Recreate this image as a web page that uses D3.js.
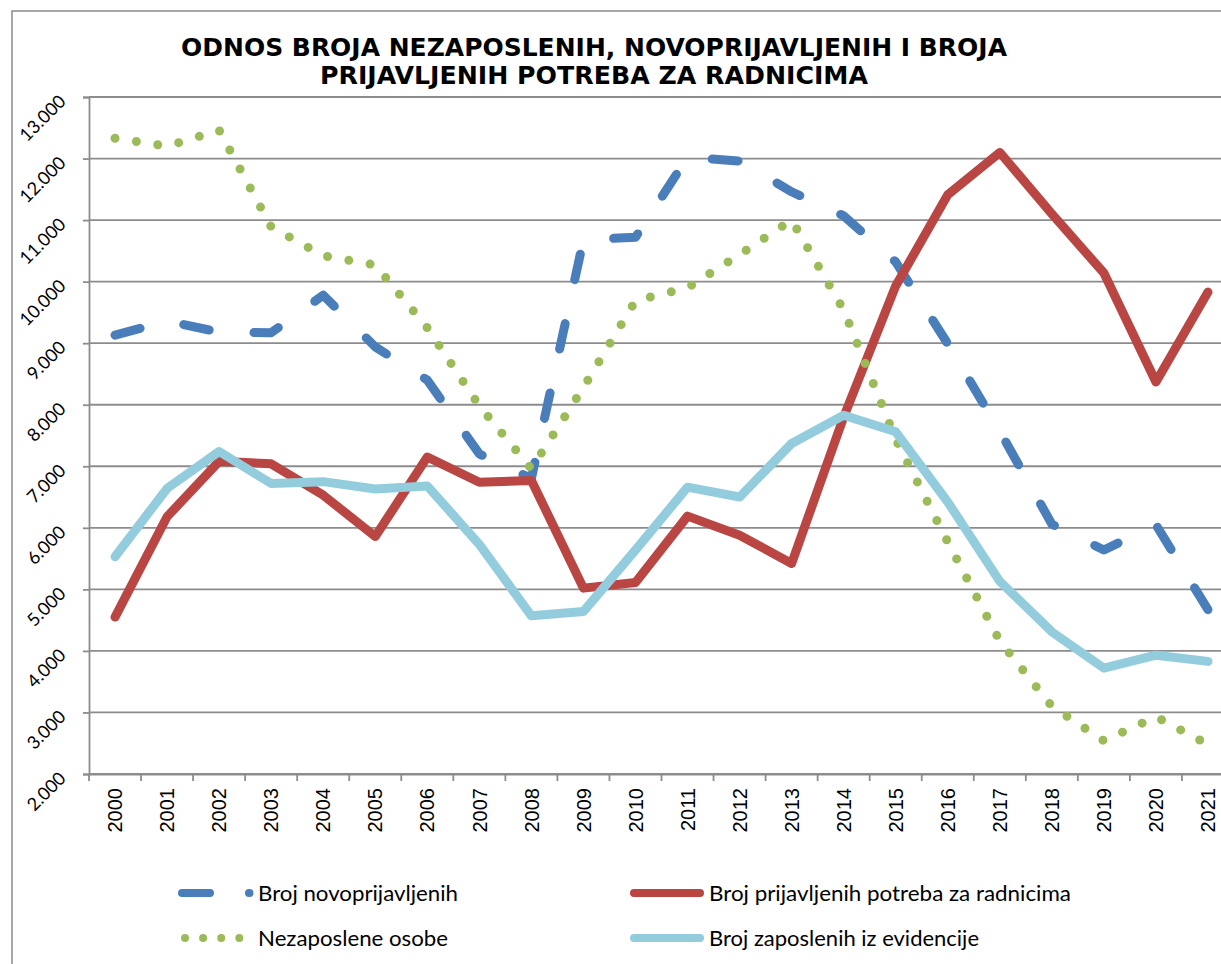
<!DOCTYPE html>
<html>
<head>
<meta charset="utf-8">
<script src="https://cdn.jsdelivr.net/npm/d3@7"></script>
<style>
  body { margin: 0; background: #fff; }
  svg { display: block; }
</style>
</head>
<body>
<div class="chart"></div>
<script>
// categories and series values
const years = ['2000','2001','2002','2003','2004','2005','2006','2007','2008','2009','2010',
               '2011','2012','2013','2014','2015','2016','2017','2018','2019','2020','2021'];
const novoprijavljeni = [9130, 9360, 9180, 9170, 9780, 8940, 8400, 7200, 6800, 10680, 10720,
                         12020, 11960, 11460, 11070, 10320, 8990, 7570, 6060, 5640, 6050, 4670];
const potrebe = [4550, 6180, 7080, 7040, 6530, 5860, 7150, 6740, 6770, 5020, 5110,
                 6190, 5880, 5420, 7800, 9930, 11410, 12100, 11100, 10140, 8370, 9830];
const nezaposleni = [12330, 12200, 12460, 10890, 10420, 10270, 9250, 7980, 6960, 8280, 9690,
                     9900, 10440, 11000, 9540, 7440, 5770, 4160, 3100, 2540, 2930, 2480];
const zaposleni = [5530, 6640, 7240, 6720, 6750, 6630, 6680, 5730, 4570, 4640, 5640,
                   6660, 6500, 7370, 7830, 7560, 6420, 5130, 4310, 3720, 3930, 3830];
const yTicks = [2000, 3000, 4000, 5000, 6000, 7000, 8000, 9000, 10000, 11000, 12000, 13000];
const titleLines = ['ODNOS BROJA NEZAPOSLENIH, NOVOPRIJAVLJENIH I BROJA',
                    'PRIJAVLJENIH POTREBA ZA RADNICIMA'];
const seriesNames = ['Broj novoprijavljenih', 'Broj prijavljenih potreba za radnicima',
                     'Nezaposlene osobe', 'Broj zaposlenih iz evidencije'];

const w = 1221;
const h = 964;
const padL = 89, padR = 1234, padT = 97, padB = 774;
const grid = '#8c8c8c';
const lab = 'Lato, "Open Sans", sans-serif';

const locale = d3.formatLocale({decimal: ',', thousands: '.', grouping: [3], currency: ['', '']});
const fmt = locale.format(',');

const xScale = d3.scaleBand().domain(years).range([padL, padR]).padding(0);
const yScale = d3.scaleLinear().domain([2000, 13000]).range([padB, padT]);
const cx = (d) => xScale(d) + xScale.bandwidth() / 2;

const svg = d3.select('div.chart')
  .append('svg')
  .attr('width', w)
  .attr('height', h);

svg.append('rect')
  .attr('width', w).attr('height', h)
  .attr('fill', '#fff');

// chart area border
svg.append('rect')
  .attr('x', 12).attr('y', 11)
  .attr('width', w + 20).attr('height', h + 20)
  .attr('fill', 'none')
  .attr('stroke', '#8a8a8a')
  .attr('stroke-width', 1.5);

// title
svg.selectAll('text.title')
  .data(titleLines)
  .enter()
  .append('text')
  .attr('class', 'title')
  .text((d) => d)
  .attr('x', 594)
  .attr('y', (d, i) => 56 + i * 28)
  .attr('text-anchor', 'middle')
  .attr('font-family', '"DejaVu Sans", Verdana, sans-serif')
  .attr('font-weight', 'bold')
  .attr('font-size', 25)
  .attr('textLength', (d, i) => i == 0 ? 826 : 548)
  .attr('lengthAdjust', 'spacingAndGlyphs')
  .attr('fill', '#000');

// horizontal gridlines
svg.append('g')
  .selectAll('line')
  .data(yTicks)
  .enter()
  .append('line')
  .attr('x1', padL).attr('x2', padR)
  .attr('y1', (d) => yScale(d)).attr('y2', (d) => yScale(d))
  .attr('stroke', grid)
  .attr('stroke-width', 1.8);

// y axis
const yAxis = d3.axisLeft(yScale).tickValues(yTicks).tickSize(6).tickFormat(fmt);
const gy = svg.append('g')
  .attr('transform', 'translate(' + padL + ',0)')
  .call(yAxis);
gy.select('.domain').attr('stroke', grid).attr('stroke-width', 1.8);
gy.selectAll('.tick line').attr('stroke', grid).attr('stroke-width', 1.8);
gy.selectAll('.tick text')
  .attr('font-family', lab)
  .attr('font-size', 18)
  .attr('fill', '#000')
  .attr('x', 0).attr('dy', 0)
  .attr('text-anchor', 'end')
  .attr('transform', 'translate(-22,5) rotate(-45)');

// x axis: labels from the axis, tick marks on category borders
const xAxis = d3.axisBottom(xScale).tickSize(0).tickSizeOuter(0);
const gx = svg.append('g')
  .attr('transform', 'translate(0,' + padB + ')')
  .call(xAxis);
gx.select('.domain').attr('stroke', grid).attr('stroke-width', 1.8);
gx.selectAll('.tick text')
  .attr('font-family', '"Liberation Sans", Arial, sans-serif')
  .attr('font-size', 20)
  .attr('fill', '#000')
  .attr('y', 0).attr('x', 0)
  .attr('dy', '0.36em')
  .attr('text-anchor', 'end')
  .attr('transform', 'translate(0,14) rotate(-90)');

svg.append('g')
  .selectAll('line')
  .data(years.concat(['end']))
  .enter()
  .append('line')
  .attr('x1', (d) => d == 'end' ? padR : xScale(d))
  .attr('x2', (d) => d == 'end' ? padR : xScale(d))
  .attr('y1', padB).attr('y2', padB + 7)
  .attr('stroke', grid)
  .attr('stroke-width', 1.8);

// series
const series = [
  {name: seriesNames[0], values: novoprijavljeni, color: '#4a7ebb', width: 9, dash: '26 45'},
  {name: seriesNames[1], values: potrebe, color: '#b94643', width: 9, dash: null},
  {name: seriesNames[2], values: nezaposleni, color: '#9bbb59', width: 9, dash: '0 21.6'},
  {name: seriesNames[3], values: zaposleni, color: '#93cddd', width: 9, dash: null}
];

const line = d3.line()
  .x((d, i) => cx(years[i]))
  .y((d) => yScale(d));

svg.append('g')
  .selectAll('path')
  .data(series)
  .enter()
  .append('path')
  .attr('d', (d) => line(d.values))
  .attr('fill', 'none')
  .attr('stroke', (d) => d.color)
  .attr('stroke-width', (d) => d.width)
  .attr('stroke-linecap', 'round')
  .attr('stroke-linejoin', 'round')
  .attr('stroke-dasharray', (d) => d.dash);

// legend
const legendPos = [
  {x1: 182, x2: 250, y: 893, dash: '28 39 0.5 10'},
  {x1: 634, x2: 700, y: 893, dash: null},
  {x1: 185, x2: 241, y: 938, dash: '0 18.1'},
  {x1: 634, x2: 700, y: 938, dash: null}
];
const textLen = [200, 362, 190, 270];

const lg = svg.append('g')
  .selectAll('g')
  .data(series)
  .enter()
  .append('g');

lg.append('line')
  .attr('x1', (d, i) => legendPos[i].x1)
  .attr('x2', (d, i) => legendPos[i].x2)
  .attr('y1', (d, i) => legendPos[i].y)
  .attr('y2', (d, i) => legendPos[i].y)
  .attr('stroke', (d) => d.color)
  .attr('stroke-width', 8)
  .attr('stroke-linecap', 'round')
  .attr('stroke-dasharray', (d, i) => legendPos[i].dash);

lg.append('text')
  .text((d) => d.name)
  .attr('x', (d, i) => i % 2 == 0 ? 258 : 709)
  .attr('y', (d, i) => legendPos[i].y + 8)
  .attr('font-family', lab)
  .attr('font-size', 21)
  .attr('fill', '#000')
  .attr('textLength', (d, i) => textLen[i])
  .attr('lengthAdjust', 'spacingAndGlyphs');
</script>
</body>
</html>
